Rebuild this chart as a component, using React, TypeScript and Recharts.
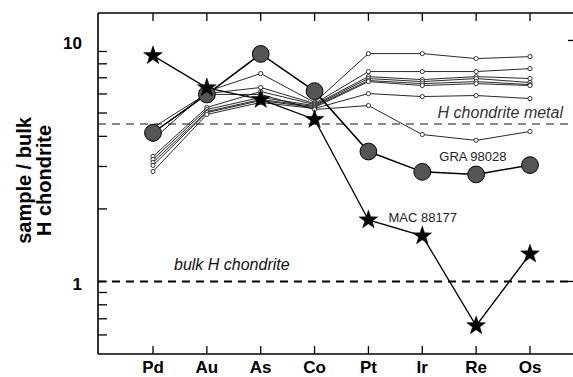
import React from 'react';
import { LineChart, Line, XAxis, YAxis, ReferenceLine, LabelList } from 'recharts';

const elements = ['Pd', 'Au', 'As', 'Co', 'Pt', 'Ir', 'Re', 'Os'];

// MAC 88177 (stars) and GRA 98028 (big grey dots)
const mac88177 = [8.65, 6.36, 5.69, 4.7, 1.8, 1.545, 0.655, 1.3];
const gra98028 = [4.14, 5.97, 8.79, 6.16, 3.46, 2.85, 2.78, 3.04];

// the other samples, thin lines with small open dots
const sample1 = [3.88, 6.14, 7.29, 5.53, 8.82, 8.82, 8.41, 8.57];
const sample2 = [4.35, 6.02, 6.38, 5.47, 7.43, 7.43, 7.43, 7.64];
const sample3 = [3.3, 5.27, 6.14, 5.42, 7.08, 6.88, 7.08, 6.95];
const sample4 = [3.21, 5.17, 5.8, 5.37, 6.95, 6.75, 6.95, 6.69];
const sample5 = [3.12, 5.07, 5.69, 5.32, 6.82, 6.62, 6.75, 6.56];
const sample6 = [3.03, 5.02, 5.63, 5.27, 6.75, 6.5, 6.62, 6.5];
const sample7 = [2.86, 4.93, 5.53, 5.22, 6.02, 5.85, 5.91, 5.74];
const sample8 = [4.15, 5.97, 5.97, 5.17, 5.37, 4.07, 3.85, 4.19];

const hChondriteMetal = 4.5;
const bulkHChondrite = 1;

const yTicks = [0.6, 0.7, 0.8, 0.9, 1, 2, 3, 4, 5, 6, 7, 8, 9, 10];
const yLabelled = [1, 10];

const thinSeries = [sample1, sample2, sample3, sample4, sample5, sample6, sample7, sample8];

const data = elements.map((el, i) => {
  const row: any = { el, mac: mac88177[i], gra: gra98028[i] };
  thinSeries.forEach((s, k) => { row['s' + (k + 1)] = s[i]; });
  return row;
});

const FONT = '"Liberation Sans", Arial, Helvetica, sans-serif';

const BottomTick = (props: any) => {
  const { x, y, payload } = props;
  return (
    <g>
      <line x1={x} x2={x} y1={y} y2={y - 8} stroke="#000" strokeWidth={1.3} />
      <text x={x} y={y + 19} textAnchor="middle" fontFamily={FONT} fontWeight="bold" fontSize={17} fill="#000">
        {payload.value}
      </text>
    </g>
  );
};

const TopTick = (props: any) => {
  const { x, y } = props;
  return <line x1={x} x2={x} y1={y} y2={y + 8} stroke="#000" strokeWidth={1.3} />;
};

const LeftTick = (props: any) => {
  const { x, y, payload } = props;
  const v = payload.value;
  return (
    <g>
      {v !== 10 && <line x1={x} x2={x + 9} y1={y} y2={y} stroke="#000" strokeWidth={1.3} />}
      {yLabelled.includes(v) && (
        <text x={x - 16} y={y + 8.5} textAnchor="end" fontFamily={FONT} fontWeight="bold" fontSize={17} fill="#000">
          {v}
        </text>
      )}
    </g>
  );
};

const RightTick = (props: any) => {
  const { x, y } = props;
  return <line x1={x} x2={x - 8} y1={y} y2={y} stroke="#000" strokeWidth={1.3} />;
};

const YTitle = (props: any) => {
  const vb = props.viewBox || { x: 0, y: 13, width: 98, height: 341 };
  const cy = vb.y + vb.height / 2 - 3;
  return (
    <g fontFamily={FONT} fontWeight="bold" fontSize={20} fill="#000">
      <text x={31} y={cy} textAnchor="middle" transform={`rotate(-90, 31, ${cy})`}>sample / bulk</text>
      <text x={51} y={cy} textAnchor="middle" transform={`rotate(-90, 51, ${cy})`}>H chondrite</text>
    </g>
  );
};

const MetalLabel = (props: any) => {
  const vb = props.viewBox;
  return (
    <text x={vb.x + vb.width - 13} y={vb.y - 6} textAnchor="end" fontFamily={FONT} fontStyle="italic" fontSize={16} fill="#333">
      H chondrite metal
    </text>
  );
};

const BulkLabel = (props: any) => {
  const vb = props.viewBox;
  return (
    <text x={vb.x + 76} y={vb.y - 11} fontFamily={FONT} fontStyle="italic" fontSize={16} fill="#111">
      bulk H chondrite
    </text>
  );
};

const Star = (props: any) => {
  const { cx, cy } = props;
  if (cx == null || cy == null) return null;
  const R = 9.8;
  const r = 3.9;
  const pts: string[] = [];
  for (let i = 0; i < 10; i++) {
    const rad = i % 2 === 0 ? R : r;
    const a = -Math.PI / 2 + (i * Math.PI) / 5;
    pts.push(`${cx + rad * Math.cos(a)},${cy + rad * Math.sin(a)}`);
  }
  return <polygon points={pts.join(' ')} fill="#000" stroke="#000" strokeWidth={0.5} />;
};

const graLabel = (props: any) => {
  const { x, y, index } = props;
  if (index !== 5) return null;
  return (
    <text x={x + 17} y={y - 10.6} fontFamily={FONT} fontSize={13} fill="#222">GRA 98028</text>
  );
};

const macLabel = (props: any) => {
  const { x, y, index } = props;
  if (index !== 4) return null;
  return (
    <text x={x + 20} y={y + 2} fontFamily={FONT} fontSize={13} fill="#222">MAC 88177</text>
  );
};

export default function App() {
  return (
    <div style={{ position: 'fixed', left: 0, top: 0, width: 573, height: 377, overflow: 'hidden', background: '#fff' }}>
      <LineChart width={600} height={377} data={data} margin={{ top: 0, right: 0, bottom: 0, left: 0 }}>
        <XAxis
          dataKey="el"
          scale="point"
          padding={{ left: 55, right: 46 }}
          height={23}
          tickSize={0}
          tickMargin={0}
          interval={0}
          axisLine={{ stroke: '#000', strokeWidth: 1.6 }}
          tickLine={false}
          tick={<BottomTick />}
        />
        <XAxis
          xAxisId="top"
          orientation="top"
          dataKey="el"
          scale="point"
          padding={{ left: 55, right: 46 }}
          height={13}
          tickSize={0}
          tickMargin={0}
          interval={0}
          axisLine={{ stroke: '#000', strokeWidth: 1.6 }}
          tickLine={false}
          tick={<TopTick />}
        />
        <YAxis
          scale="log"
          domain={[0.5, 13]}
          allowDataOverflow
          ticks={yTicks}
          interval={0}
          width={98}
          tickSize={0}
          tickMargin={0}
          axisLine={{ stroke: '#000', strokeWidth: 1.6 }}
          tickLine={false}
          tick={<LeftTick />}
          label={<YTitle />}
        />
        <YAxis
          yAxisId="right"
          orientation="right"
          scale="log"
          domain={[0.5, 13]}
          allowDataOverflow
          ticks={yLabelled}
          interval={0}
          width={24}
          tickSize={0}
          tickMargin={0}
          axisLine={{ stroke: '#000', strokeWidth: 1.6 }}
          tickLine={false}
          tick={<RightTick />}
        />
        <ReferenceLine y={hChondriteMetal} stroke="#888" strokeWidth={2} strokeDasharray="8 6" label={<MetalLabel />} />
        <ReferenceLine y={bulkHChondrite} stroke="#000" strokeWidth={2} strokeDasharray="8 6" label={<BulkLabel />} />
        {thinSeries.map((_, k) => (
          <Line
            key={k}
            dataKey={'s' + (k + 1)}
            stroke="#111"
            strokeWidth={0.9}
            dot={{ r: 2.1, fill: '#fff', stroke: '#222', strokeWidth: 0.9 }}
            isAnimationActive={false}
          />
        ))}
        <Line
          dataKey="gra"
          stroke="#000"
          strokeWidth={1.5}
          dot={{ r: 8.4, fill: '#555', stroke: '#000', strokeWidth: 1 }}
          isAnimationActive={false}
        >
          <LabelList dataKey="gra" content={graLabel} />
        </Line>
        <Line
          dataKey="mac"
          stroke="#000"
          strokeWidth={1.3}
          dot={<Star />}
          isAnimationActive={false}
        >
          <LabelList dataKey="mac" content={macLabel} />
        </Line>
      </LineChart>
    </div>
  );
}
